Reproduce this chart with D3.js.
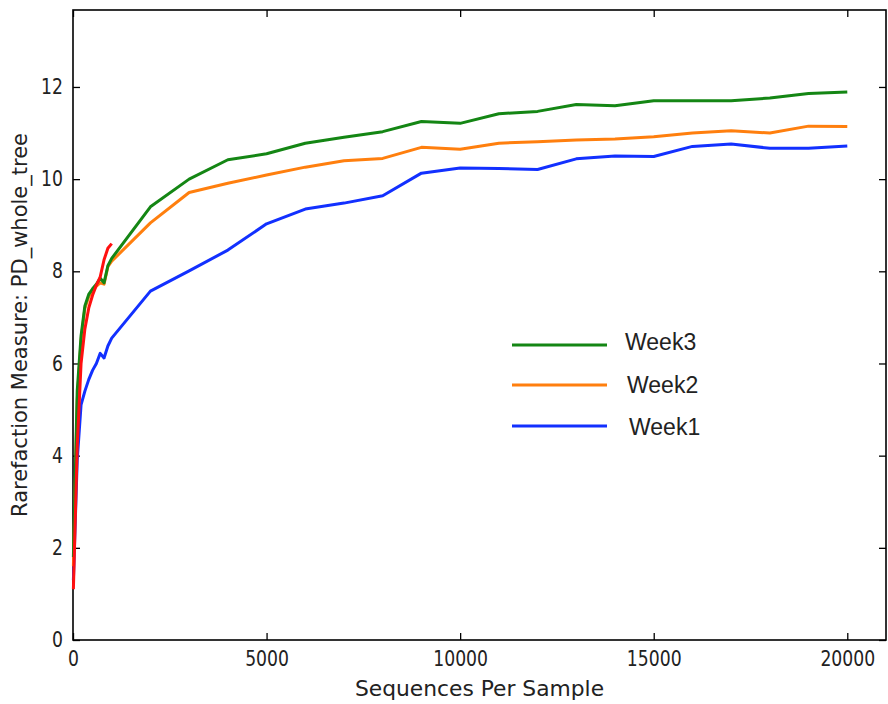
<!DOCTYPE html>
<html lang="en">
<head>
<meta charset="utf-8">
<script src="https://d3js.org/d3.v7.min.js"></script>
<style>
  body { margin: 0; background: #fff; }
  .tick text { font-family: "DejaVu Sans", sans-serif; font-size: 20.5px; fill: #222; }
  .lbl { font-family: "DejaVu Sans", sans-serif; font-size: 21px; fill: #222; }
  .leg { font-family: "Liberation Sans", Arial, sans-serif; font-size: 23px; fill: #222; }
</style>
</head>
<body>
<svg width="888" height="704"></svg>
<script>
  // sequences per sample (x) and rarefaction values per week
  var seqs = [10, 109, 208, 307, 406, 505, 604, 703, 802, 901, 1000,
              2000, 3000, 4000, 5000, 6000, 7000, 8000, 9000, 10000,
              11000, 12000, 13000, 14000, 15000, 16000, 17000, 18000, 19000, 20000];
  var week1 = [1.3, 3.9, 5.1, 5.4, 5.65, 5.85, 6.0, 6.22, 6.12, 6.38, 6.55,
               7.57, 8.01, 8.46, 9.03, 9.35, 9.48, 9.64, 10.13, 10.24,
               10.23, 10.21, 10.44, 10.50, 10.49, 10.71, 10.76, 10.67, 10.67, 10.72];
  var week2 = [1.6, 5.2, 6.5, 7.2, 7.45, 7.58, 7.68, 7.75, 7.72, 8.1, 8.22,
               9.05, 9.71, 9.91, 10.09, 10.26, 10.40, 10.45, 10.69, 10.65,
               10.78, 10.81, 10.85, 10.87, 10.92, 11.00, 11.05, 11.00, 11.15, 11.14];
  var week3 = [1.8, 5.4, 6.6, 7.25, 7.5, 7.62, 7.72, 7.85, 7.75, 8.12, 8.28,
               9.40, 10.00, 10.42, 10.55, 10.78, 10.91, 11.03, 11.25, 11.21,
               11.42, 11.47, 11.62, 11.59, 11.70, 11.70, 11.70, 11.76, 11.86, 11.89];
  // the red curve only runs to 1000 and has no legend entry
  var redSeqs = [10, 109, 208, 307, 406, 505, 604, 703, 802, 901, 1000];
  var redVals = [1.1, 4.2, 6.0, 6.75, 7.2, 7.48, 7.7, 7.88, 8.25, 8.5, 8.6];
  var xTicks = [0, 5000, 10000, 15000, 20000];
  var yTicks = [0, 2, 4, 6, 8, 10, 12];

  var svg = d3.select("svg");
  var padLeft = 73, padTop = 10, width = 813, height = 630;
  var squeeze = 0.84; // tick labels in the picture are narrow
  var g = svg.append("g").attr("transform", "translate(" + padLeft + "," + padTop + ")");

  var x = d3.scaleLinear().domain([0, 21000]).range([0, width]);
  var y = d3.scaleLinear().domain([0, 13.67]).range([height, 0]);

  // axes, ticks point inwards on all four sides
  g.append("g").attr("transform", "translate(0," + height + ")")
     .call(d3.axisBottom(x).tickValues(xTicks).tickFormat(d3.format("d")).tickSize(-7).tickPadding(11))
     .selectAll(".tick text").attr("transform", "scale(" + squeeze + ",1)");
  g.append("g")
     .call(d3.axisLeft(y).tickValues(yTicks).tickSize(-7))
     .selectAll(".tick text")
     .attr("x", -10 / squeeze)
     .attr("transform", "scale(" + squeeze + ",1)");
  g.append("g").call(d3.axisTop(x).tickValues(xTicks).tickFormat("").tickSize(-7));
  g.append("g").attr("transform", "translate(" + width + ",0)")
     .call(d3.axisRight(y).tickValues(yTicks).tickFormat("").tickSize(-7));
  g.selectAll(".domain").remove();
  g.selectAll(".tick line").attr("stroke", "#000").attr("stroke-width", 1.3);

  g.append("rect")
     .attr("width", width).attr("height", height)
     .attr("fill", "none").attr("stroke", "#000").attr("stroke-width", 1.6);

  var line = d3.line()
     .x(function (d) { return x(d[0]); })
     .y(function (d) { return y(d[1]); });

  var series = [
    { name: "Week1", vals: week1, color: "#1230ff" },
    { name: "Week2", vals: week2, color: "#ff7f0e" },
    { name: "Week3", vals: week3, color: "#148614" }
  ];
  series.forEach(function (s) {
    g.append("path")
       .datum(d3.zip(seqs, s.vals))
       .attr("d", line)
       .attr("fill", "none")
       .attr("stroke", s.color)
       .attr("stroke-width", 3)
       .attr("stroke-linejoin", "round");
  });
  g.append("path")
     .datum(d3.zip(redSeqs, redVals))
     .attr("d", line)
     .attr("fill", "none")
     .attr("stroke", "#ff1010")
     .attr("stroke-width", 3)
     .attr("stroke-linejoin", "round");

  // axis labels, centred on the plot frame
  svg.append("text").attr("class", "lbl")
     .attr("x", padLeft + width / 2).attr("y", 696)
     .attr("text-anchor", "middle")
     .style("font-size", "21.8px")
     .text("Sequences Per Sample");
  svg.append("text").attr("class", "lbl")
     .attr("transform", "translate(27," + (padTop + height / 2) + ") rotate(-90)")
     .attr("text-anchor", "middle")
     .text("Rarefaction Measure: PD_whole_tree");

  // legend (no frame), listed top to bottom Week3, Week2, Week1
  var legend = [
    { s: series[2], ly: 345, tx: 625, ty: 342 },
    { s: series[1], ly: 385, tx: 627, ty: 385 },
    { s: series[0], ly: 426, tx: 629, ty: 427 }
  ];
  legend.forEach(function (l) {
    svg.append("line")
       .attr("x1", 512).attr("x2", 607)
       .attr("y1", l.ly).attr("y2", l.ly)
       .attr("stroke", l.s.color).attr("stroke-width", 3);
    svg.append("text").attr("class", "leg")
       .attr("x", l.tx).attr("y", l.ty)
       .attr("dominant-baseline", "central")
       .text(l.s.name);
  });
</script>
</body>
</html>
